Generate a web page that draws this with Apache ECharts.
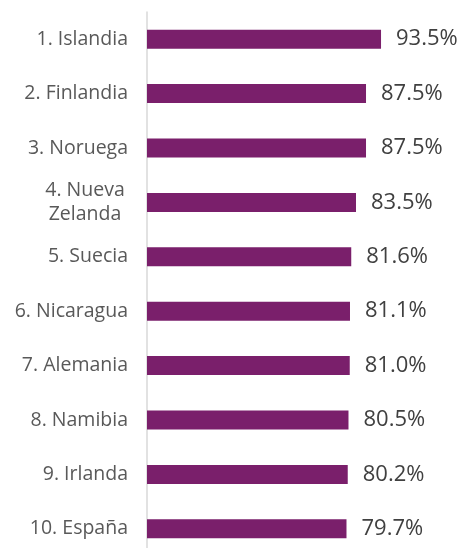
<!DOCTYPE html>
<html>
<head>
<meta charset="utf-8">
<script src="https://cdn.jsdelivr.net/npm/echarts@6/dist/echarts.min.js"></script>
<style>html,body{margin:0;padding:0;background:#fff}#c{width:465px;height:548px}</style>
</head>
<body>
<div id="c"></div>
<script>
const categories = ['1. Islandia','2. Finlandia','3. Noruega','4. Nueva\nZelanda','5. Suecia','6. Nicaragua','7. Alemania','8. Namibia','9. Irlanda','10. España'];
const values = [93.5, 87.5, 87.5, 83.5, 81.6, 81.1, 81.0, 80.5, 80.2, 79.7];

const chart = echarts.init(document.getElementById('c'), null, {renderer: 'canvas'});
chart.setOption({
  animation: false,
  grid: {left: 147, width: 250.3, top: 12, height: 544, containLabel: false, outerBoundsMode: 'none'},
  xAxis: {type: 'value', min: 0, max: 100, show: false},
  yAxis: {
    type: 'category', inverse: true, data: categories,
    axisLine: {show: true, lineStyle: {color: '#d9d9d9', width: 1.5}},
    axisTick: {show: false},
    axisLabel: {
      margin: 19, color: '#595959', fontFamily: 'Open Sans', fontSize: 19.5, lineHeight: 24,
      formatter: function (v) { return v.indexOf('\n') >= 0 ? '{c|' + v + '}' : v; },
      rich: {c: {width: 86, align: 'center', color: '#595959', fontFamily: 'Open Sans', fontSize: 19.5, lineHeight: 24}}
    }
  },
  series: [{
    type: 'bar', data: values, barWidth: 19,
    itemStyle: {color: '#7A1F6B'},
    label: {show: true, position: 'right', distance: 15, color: '#404040', fontFamily: 'Open Sans', fontSize: 22,
      formatter: p => p.value.toFixed(1) + '%'}
  }]
});
</script>
</body>
</html>
